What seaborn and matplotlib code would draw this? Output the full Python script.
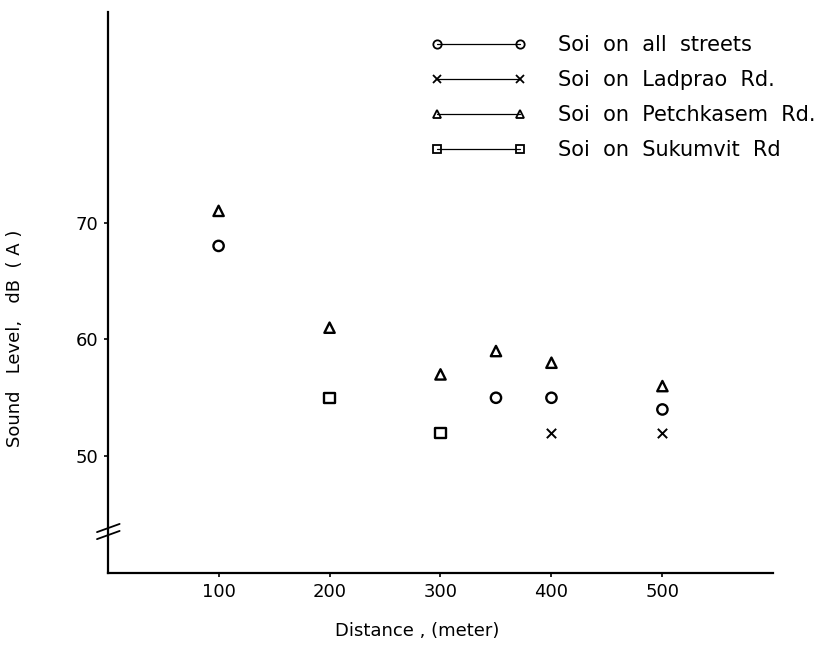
import matplotlib
matplotlib.use("Agg")
import matplotlib.pyplot as plt
from matplotlib.lines import Line2D
import pandas as pd
import seaborn as sns

# data
series_names = ["Soi  on  all  streets", "Soi  on  Ladprao  Rd.",
                "Soi  on  Petchkasem  Rd.", "Soi  on  Sukumvit  Rd"]
series_markers = ["o", "x", "^", "s"]

all_dist = [100, 350, 400, 500]
all_level = [68, 55, 55, 54]
ladprao_dist = [400, 500]
ladprao_level = [52, 52]
petch_dist = [100, 200, 300, 350, 400, 500]
petch_level = [71, 61, 57, 59, 58, 56]
sukum_dist = [200, 300]
sukum_level = [55, 52]

x_ticks = [100, 200, 300, 400, 500]
y_ticks = [50, 60, 70]

frames = []
for name, d, l in zip(series_names,
                      [all_dist, ladprao_dist, petch_dist, sukum_dist],
                      [all_level, ladprao_level, petch_level, sukum_level]):
    frames.append(pd.DataFrame({"distance": d, "level": l, "series": name}))
df = pd.concat(frames, ignore_index=True)

sns.set_style("white")
plt.rcParams["font.family"] = ["DejaVu Sans"]
plt.rcParams["text.color"] = "black"

fig = plt.figure(figsize=(8.28, 6.46), dpi=100)
ax = fig.add_axes([0.130, 0.113, 0.804, 0.868])

for name, mk in zip(series_names, series_markers):
    sub = df[df["series"] == name]
    if mk == "x":
        sns.scatterplot(data=sub, x="distance", y="level", marker=mk, color="black",
                        s=45, linewidth=1.4, ax=ax, legend=False)
    else:
        sns.scatterplot(data=sub, x="distance", y="level", marker=mk, facecolor="none",
                        edgecolor="black", s=55, linewidth=1.7, ax=ax, legend=False)

ax.set_xlim(0, 600); ax.set_ylim(40, 88)
ax.set_xticks(x_ticks); ax.set_yticks(y_ticks)
ax.tick_params(axis="both", direction="out", length=3, width=1.2, color="black",
               labelsize=13, labelcolor="black", left=True, bottom=True, pad=4)
for sp in ["top", "right"]: ax.spines[sp].set_visible(False)
for sp in ["left", "bottom"]:
    ax.spines[sp].set_color("black"); ax.spines[sp].set_linewidth(1.6)

ax.set_xlabel("Distance , (meter)", fontsize=13, color="black")
ax.xaxis.set_label_coords(0.465, -0.088)
ax.set_ylabel("Sound   Level,   dB  ( A )", fontsize=13, color="black")
ax.yaxis.set_label_coords(-0.125, 0.419)

# axis break marks on the y axis
tr = ax.get_yaxis_transform()
for y0 in (42.9, 43.5):
    ax.plot([-0.016, 0.018], [y0, y0 + 0.7], color="black", lw=1.3, transform=tr, clip_on=False)

handles = [Line2D([0], [0], marker=mk, color="black", lw=0.9, markersize=6,
                  markerfacecolor="none", markeredgewidth=1.3) for mk in series_markers]
fig.legend(handles, series_names, loc="upper left", bbox_to_anchor=(0.520, 0.946), frameon=False,
           numpoints=2, handlelength=4.6, handletextpad=1.5, fontsize=15, labelspacing=0.72,
           borderpad=0, borderaxespad=0, labelcolor="black")

plt.savefig("out.png", dpi=100)
